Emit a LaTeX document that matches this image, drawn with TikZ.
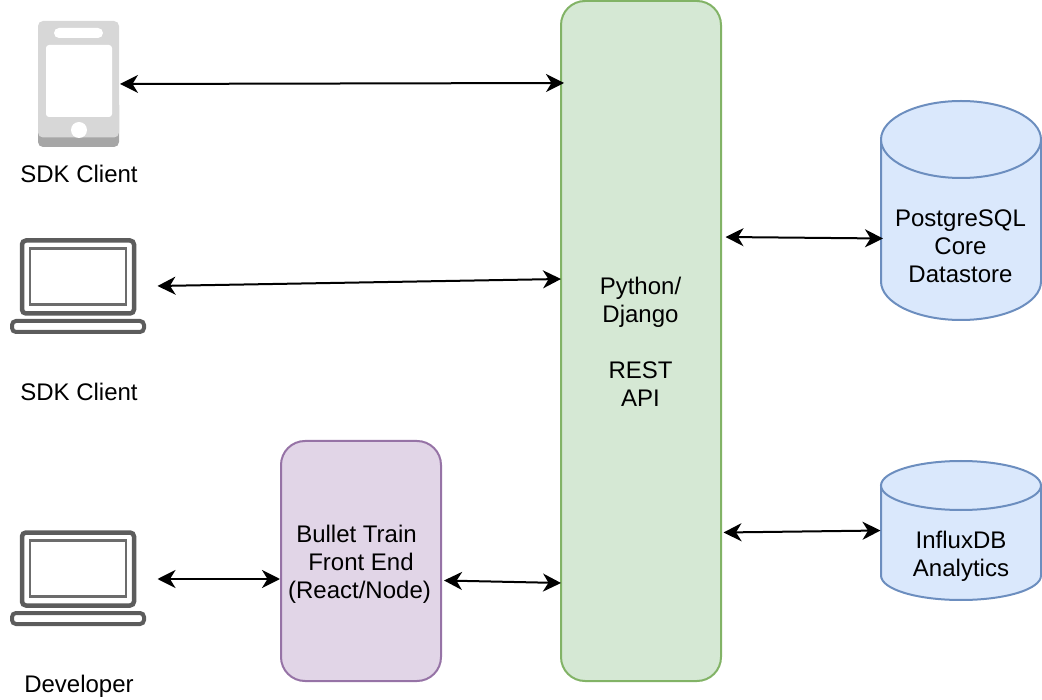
\documentclass[tikz,border=0pt]{standalone}
\usepackage{fontspec}
\setmainfont{Liberation Sans}
\usetikzlibrary{arrows.meta,calc}
\definecolor{apiFill}{HTML}{D5E8D4}
\definecolor{apiLine}{HTML}{82B366}
\definecolor{feFill}{HTML}{E1D5E7}
\definecolor{feLine}{HTML}{9673A6}
\definecolor{dbFill}{HTML}{DAE8FC}
\definecolor{dbLine}{HTML}{6C8EBF}
\definecolor{phoneBody}{HTML}{D7D7D7}
\definecolor{phoneBase}{HTML}{A6A6A6}
\definecolor{lapLine}{HTML}{5C5C5C}
\tikzset{
  lbl/.style={font=\fontsize{24}{28}\selectfont, align=center, inner sep=0pt, outer sep=0pt, text=black},
  panel/.style={draw, line width=2pt, rounded corners=24pt, minimum width=160pt, inner sep=0pt, outer sep=0pt},
  box/.style={inner sep=0pt, outer sep=0pt},
  link/.style={line width=2pt, black, {Stealth[length=18pt,width=18pt,inset=5.5pt]}-{Stealth[length=18pt,width=18pt,inset=5.5pt]}},
  dbody/.style={draw=dbLine, fill=dbFill, line width=2pt},
  lapA/.style={draw=lapLine, line width=4.5pt, rounded corners=4pt},
  lapB/.style={draw=lapLine!90, line width=2.5pt},
  lapC/.style={draw=lapLine, line width=4pt, rounded corners=4pt}
}
\newcommand{\laptopicon}[1]{%
  \draw[lapA] ($(#1)+(-56,-45.5)$) rectangle ($(#1)+(56,27.5)$);
  \draw[lapB] ($(#1)+(-48,-37.5)$) rectangle ($(#1)+(48,18.5)$);
  \draw[lapC] ($(#1)+(-66,35)$) rectangle ($(#1)+(66,46)$);
}
\begin{document}
\begin{tikzpicture}[x=1pt,y=-1pt]
\useasboundingbox (0,0) rectangle (1042,700);

% main boxes
\node[panel, draw=apiLine, fill=apiFill, minimum height=680pt] (api) at (641,341) {};
\node[lbl] (apit) at (640.5,342) {Python/\\Django\\\mbox{}\\REST\\API};
\node[panel, draw=feLine, fill=feFill, minimum height=240pt] (fe) at (361,561) {};
\node[lbl] (fet) at (361,564) {Bullet Train\hspace*{9pt}\\Front End\hspace*{2pt}\\(React/Node)\hspace*{3pt}};

% phone
\node[box, minimum width=81pt, minimum height=126pt] (phone) at (78.5,84) {};
\fill[phoneBase, rounded corners=5pt] (38,100) rectangle (119,147);
\fill[phoneBody, rounded corners=5pt] (38,21) rectangle (119,137.5);
\fill[white, rounded corners=3pt] (46,45) rectangle (112,117);
\fill[white, rounded corners=5pt] (54,28) rectangle (103,38);
\fill[white] (79,130) circle [radius=8];
\node[lbl] (sdk1) at (79,174) {SDK Client};

% laptops
\node[box, minimum width=136pt, minimum height=96pt] (lap1) at (78,286) {};
\laptopicon{lap1.center}
\node[lbl] (sdk2) at (79,392) {SDK Client};
\node[box, minimum width=136pt, minimum height=96pt] (lap2) at (78,578) {};
\laptopicon{lap2.center}
\node[lbl] (dev) at (79,686) {Developer};

% databases
\path[dbody] (881,139.5) -- (881,281.5) .. controls (881,302.8) and (916.8,320) .. (961,320) .. controls (1005.2,320) and (1041,302.8) .. (1041,281.5) -- (1041,139.5) -- cycle;
\path[dbody] (961,139.5) ellipse [x radius=80, y radius=38.5];
\node[box, minimum width=160pt, minimum height=219pt] (pg) at (961,210.5) {};
\node[lbl] (pgt) at (960.5,246) {PostgreSQL\\Core\\Datastore};

\path[dbody] (881,485.5) -- (881,575.5) .. controls (881,589.3) and (916.8,600) .. (961,600) .. controls (1005.2,600) and (1041,589.3) .. (1041,575.5) -- (1041,485.5) -- cycle;
\path[dbody] (961,485.5) ellipse [x radius=80, y radius=24.5];
\node[box, minimum width=160pt, minimum height=139pt] (ix) at (961,530.5) {};
\node[lbl] (ixt) at (961,556) {InfluxDB\\Analytics};

% connectors
\draw[link] ([shift={(1,0)}]phone.east) -- ([shift={(3,-258)}]api.west);
\draw[link] ([shift={(11.5,0)}]lap1.east) -- ([shift={(0,-62)}]api.west);
\draw[link] ([shift={(11.5,1)}]lap2.east) -- ([shift={(-1,18)}]fe.west);
\draw[link] ([shift={(3,19.5)}]fe.east) -- ([shift={(0,242)}]api.west);
\draw[link] ([shift={(4.5,-104)}]api.east) -- ([shift={(2,28)}]pg.west);
\draw[link] ([shift={(2.5,191.5)}]api.east) -- ([shift={(-0.5,0)}]ix.west);
\end{tikzpicture}
\end{document}
